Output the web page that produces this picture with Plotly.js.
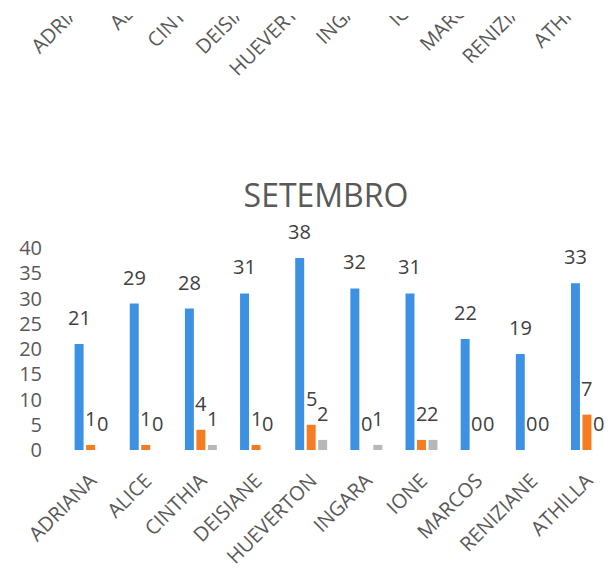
<!DOCTYPE html>
<html>
<head>
<meta charset="utf-8">
<script src="https://cdn.plot.ly/plotly-3.0.1.min.js"></script>
<style>html,body{margin:0;padding:0;background:#fff;}#chart{width:609px;height:570px;}</style>
</head>
<body>
<div id="chart"></div>
<script>
// ---- data ----
const chartTitle = 'SETEMBRO';
const categories = ['ADRIANA', 'ALICE', 'CINTHIA', 'DEISIANE', 'HUEVERTON', 'INGARA', 'IONE', 'MARCOS', 'RENIZIANE', 'ATHILLA'];
const seriesBlue = [21, 29, 28, 31, 38, 32, 31, 22, 19, 33];
const seriesOrange = [1, 1, 4, 1, 5, 0, 2, 0, 0, 7];
const seriesGray = [0, 0, 1, 0, 2, 1, 2, 0, 0, 0];
// axis labels of the previous chart, cut off at the top of the picture
const topLabels = ['ADRIANA', 'ALICE', 'CINTHIA', 'DEISIANE', 'HUEVERTON', 'INGARA', 'IONE', 'MARCOS', 'RENIZIANE', 'ATHILLA'];

// ---- styling ----
const FONT = 'Open Sans, Lato, sans-serif';
const colors = ['#3D91E2', '#F57C20', '#B7B7B7'];
const BARGAP = 0.375;
const GROUPGAP = 0.22;
const allSeries = [seriesBlue, seriesOrange, seriesGray];

const traces = allSeries.map((vals, s) => ({
  type: 'bar',
  x: categories,
  y: vals,
  marker: {color: colors[s]},
  hoverinfo: 'skip',
  showlegend: false
}));

// ghost trace carrying the upper (cut-off) axis labels
traces.push({
  type: 'scatter', mode: 'markers',
  x: topLabels, y: topLabels.map(() => 0),
  xaxis: 'x2', yaxis: 'y',
  marker: {opacity: 0}, hoverinfo: 'skip', showlegend: false
});

// data labels placed via axis scales
const slot = (1 - BARGAP) / allSeries.length;
const annotations = [];
allSeries.forEach((vals, s) => {
  vals.forEach((v, i) => {
    annotations.push({
      xref: 'x', yref: 'y',
      x: i + (s - 1) * slot, y: v,
      text: String(v),
      showarrow: false,
      xanchor: 'center', yanchor: 'bottom',
      yshift: 11,
      font: {family: FONT, size: 20, color: '#404040'}
    });
  });
});

const xMax = 9.4;
const shift2 = 2.5 / 55.15;

const layout = {
  width: 609, height: 570,
  margin: {l: 63, r: 0, t: 0, b: 120, pad: 0},
  paper_bgcolor: '#ffffff', plot_bgcolor: '#ffffff',
  barmode: 'group', bargap: BARGAP, bargroupgap: GROUPGAP,
  title: {
    text: chartTitle,
    font: {family: FONT, size: 32, color: '#595959'},
    xref: 'container', yref: 'container',
    x: 326 / 609, y: 1 - 196 / 570,
    xanchor: 'center', yanchor: 'middle'
  },
  xaxis: {
    type: 'category',
    range: [-0.5, xMax],
    showgrid: false, zeroline: false, showline: false,
    ticks: 'outside', ticklen: 10, tickcolor: 'rgba(0,0,0,0)',
    tickangle: -45,
    tickfont: {family: FONT, size: 20, color: '#595959'}
  },
  xaxis2: {
    type: 'category',
    overlaying: 'x', anchor: 'free', position: 1, side: 'bottom',
    range: [-0.5 - shift2, xMax - shift2],
    showgrid: false, zeroline: false, showline: false,
    ticks: '', ticklabelstandoff: -24,
    tickangle: -45,
    tickfont: {family: FONT, size: 20, color: '#595959'}
  },
  yaxis: {
    domain: [0, (450 - 248) / 450],
    range: [0, 40], dtick: 5,
    showgrid: false, zeroline: false, showline: false,
    ticks: '', ticklabelstandoff: 20,
    tickfont: {family: FONT, size: 20, color: '#595959'}
  },
  shapes: [{
    // white band hiding the cut-off top of the upper labels
    type: 'rect', layer: 'above', xref: 'paper', yref: 'paper',
    x0: -0.2, x1: 1.1, y0: 1 - 16 / 450, y1: 1.2,
    fillcolor: '#ffffff', line: {width: 0}
  }],
  annotations: annotations
};

Plotly.newPlot('chart', traces, layout, {displayModeBar: false, staticPlot: true});
</script>
</body>
</html>
